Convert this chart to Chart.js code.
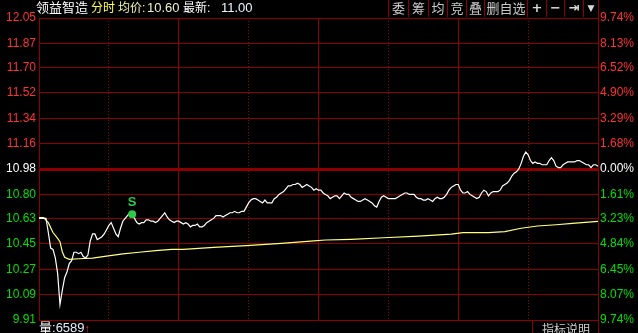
<!DOCTYPE html>
<html lang="zh">
<head>
<meta charset="UTF-8">
<title>领益智造 分时</title>
<style>
  html, body { margin: 0; padding: 0; background: #000; }
  body { width: 638px; height: 333px; overflow: hidden; position: relative; font-family: "Liberation Sans", "Noto Sans CJK SC", sans-serif; }
  #chart { position: absolute; left: 0; top: 0; display: block; }
  .ov { position: absolute; white-space: pre; z-index: 2; }
  .hd { top: 0; height: 17px; line-height: 16px; font-size: 13px; color: #fff; }
  .hd.cjk { font-size: 12px; }
  #tools { left: 388px; top: 0; height: 17px; display: flex; }
  #tools span { box-sizing: border-box; border-left: 1px solid #8c0000; height: 17px; line-height: 16px;
                text-align: center; color: #c8c8c8; font-size: 13px; font-family: "Noto Sans CJK SC", sans-serif; }
  #tools span.sym { font-family: "DejaVu Sans", sans-serif; font-weight: bold; color: #d8d8d8; }
  #rline { left: 598px; top: 0; width: 1px; height: 333px; background: #8c0000; }
  #vol { left: 39px; top: 320px; font-size: 13px; line-height: 16px; color: #fff; }
  #help { left: 532px; top: 320px; height: 16px; border-left: 1px solid #8c0000; padding-left: 9px;
          font-size: 12px; line-height: 18px; color: #d0d0d0; font-family: "Noto Sans CJK SC", sans-serif; }
</style>
</head>
<body>
<canvas id="chart" width="638" height="333"></canvas>

<div class="ov hd" style="left:36px">领益智造</div>
<div class="ov hd cjk" style="left:91px;color:#ffff50">分时</div>
<div class="ov hd cjk" style="left:118px;color:#f4f4a0">均价:</div>
<div class="ov hd" style="left:147px;color:#f0f0c8">10.60</div>
<div class="ov hd cjk" style="left:183px">最新:</div>
<div class="ov hd" style="left:221px;color:#e8f8ff">11.00</div>
<div class="ov" id="tools">
  <span style="width:20px">委</span><span style="width:20px">筹</span><span style="width:19px">均</span><span style="width:19px">竞</span><span style="width:18px">叠</span><span style="width:43px">删自选</span><span class="sym" style="width:19px">+</span><span class="sym" style="width:18px">−</span><span class="sym" style="width:19px;font-size:13px">⇥</span><span class="sym" style="width:15px;font-size:9px">▼</span>
</div>
<div class="ov" id="rline"></div>
<div class="ov" id="vol">量<span style="color:#e0f0ff">:6589</span><span style="color:#ff3030;font-size:11px">↑</span></div>
<div class="ov" id="help">指标说明</div>

<script src="https://cdn.jsdelivr.net/npm/chart.js"></script>
<script>
// prev close, axis range and tick labels (top to bottom)
const prevClose = 10.98;
const priceTicks = [12.05, 11.87, 11.70, 11.52, 11.34, 11.16, 10.98, 10.80, 10.63, 10.45, 10.27, 10.09, 9.91];
const percentTicks = ['9.74%', '8.13%', '6.52%', '4.90%', '3.29%', '1.68%', '0.00%',
                      '1.61%', '3.23%', '4.84%', '6.45%', '8.07%', '9.74%'];

// minute ticks: solid lines and dotted lines (0 = 9:30, 240 = 15:00)
const solidMinutes = [0, 60, 120, 180, 240];
const dottedMinutes = [30, 90, 150, 210];

// last price per minute, 0..240
const prices = [
  10.63, 10.63, 10.63, 10.63, 10.53, 10.42, 10.41, 10.35, 10.24, 10.02,
  10.12, 10.21, 10.25, 10.31, 10.33, 10.39, 10.39, 10.38, 10.39, 10.36,
  10.35, 10.37, 10.47, 10.52, 10.52, 10.48, 10.49, 10.50, 10.52, 10.55,
  10.58, 10.60, 10.56, 10.52, 10.50, 10.56, 10.61, 10.63, 10.65, 10.67,
  10.66, 10.63, 10.60, 10.59, 10.60, 10.60, 10.62, 10.62, 10.61, 10.61,
  10.60, 10.61, 10.63, 10.65, 10.67, 10.64, 10.62, 10.61, 10.60, 10.61,
  10.61, 10.60, 10.59, 10.60, 10.59, 10.57, 10.58, 10.58, 10.59, 10.57,
  10.57, 10.58, 10.60, 10.61, 10.62, 10.63, 10.65, 10.65, 10.65, 10.64,
  10.65, 10.66, 10.67, 10.67, 10.68, 10.67, 10.67, 10.68, 10.68, 10.71,
  10.74, 10.76, 10.77, 10.77, 10.76, 10.75, 10.74, 10.76, 10.74, 10.74,
  10.74, 10.77, 10.78, 10.80, 10.81, 10.82, 10.84, 10.86, 10.86, 10.87,
  10.87, 10.88, 10.87, 10.85, 10.86, 10.87, 10.86, 10.85, 10.83, 10.84,
  10.83, 10.83, 10.81, 10.80, 10.79, 10.77, 10.78, 10.79, 10.79, 10.77,
  10.79, 10.81, 10.80, 10.80, 10.78, 10.77, 10.76, 10.75, 10.75, 10.76,
  10.77, 10.76, 10.75, 10.74, 10.72, 10.71, 10.75, 10.78, 10.79, 10.78,
  10.77, 10.77, 10.77, 10.77, 10.78, 10.79, 10.80, 10.81, 10.81, 10.80,
  10.80, 10.80, 10.78, 10.77, 10.77, 10.76, 10.76, 10.77, 10.76, 10.75,
  10.77, 10.78, 10.77, 10.77, 10.78, 10.80, 10.83, 10.85, 10.86, 10.87,
  10.87, 10.83, 10.81, 10.81, 10.82, 10.80, 10.79, 10.78, 10.77, 10.78,
  10.81, 10.83, 10.82, 10.79, 10.81, 10.82, 10.82, 10.82, 10.83, 10.86,
  10.87, 10.88, 10.90, 10.93, 10.95, 10.96, 10.98, 11.02, 11.07, 11.10,
  11.08, 11.04, 11.02, 11.03, 11.02, 11.02, 11.01, 11.01, 11.01, 11.04,
  11.06, 11.04, 11.00, 10.99, 10.99, 11.01, 11.02, 11.03, 11.03, 11.03,
  11.03, 11.04, 11.04, 11.03, 11.02, 11.01, 11.01, 10.99, 11.01, 11.01,
  11.00
];

// average price line, read at a few minutes
const avgMinutes = [0, 2, 4, 6, 8, 9, 10, 11, 13, 17, 23, 29, 36, 43, 50, 57, 62, 75, 89,
                    104, 118, 123, 134, 148, 163, 177, 182, 193, 200, 207, 214, 222, 229, 240];
const avgPrices = [10.635, 10.635, 10.600, 10.530, 10.489, 10.465, 10.394, 10.354, 10.340, 10.344,
                   10.349, 10.363, 10.378, 10.390, 10.401, 10.411, 10.411, 10.425, 10.437,
                   10.453, 10.470, 10.477, 10.482, 10.493, 10.505, 10.519, 10.529, 10.529,
                   10.536, 10.560, 10.576, 10.585, 10.595, 10.609];

// buy/sell signal marks
const signalMinutes = [40];
const signalTexts = ['S'];

const gridRed = '#8c0000';
const upRed = '#ff3232';
const downGreen = '#00e000';
const signalGreen = '#2ec84a';

function tickColor(ctx) {
  const v = ctx.tick.value;
  if (Math.abs(v - prevClose) < 0.001) return '#ffffff';
  return v > prevClose ? upRed : downGreen;
}

function setTicks(values) {
  return scale => { scale.ticks = values.slice().sort((a, b) => a - b).map(v => ({ value: v })); };
}

// draws the S letter above each signal dot
const signalLabel = {
  id: 'signalLabel',
  afterDatasetsDraw(chart) {
    const meta = chart.getDatasetMeta(0);
    const ctx = chart.ctx;
    ctx.save();
    ctx.fillStyle = signalGreen;
    ctx.font = 'bold 13px "Liberation Sans"';
    ctx.textAlign = 'center';
    ctx.textBaseline = 'alphabetic';
    meta.data.forEach((pt, i) => ctx.fillText(signalTexts[i], pt.x, pt.y - 8));
    ctx.restore();
  }
};

const yRange = { min: priceTicks[priceTicks.length - 1], max: priceTicks[0] };

new Chart(document.getElementById('chart'), {
  type: 'line',
  data: {
    datasets: [
      {
        label: 'signal',
        data: signalMinutes.map(m => ({ x: m, y: prices[m] })),
        showLine: false,
        pointRadius: 4,
        pointBackgroundColor: signalGreen,
        pointBorderColor: signalGreen,
        pointBorderWidth: 0
      },
      {
        label: '价格',
        data: prices.map((p, i) => ({ x: i, y: p })),
        borderColor: '#ffffff',
        borderWidth: 1.2,
        pointRadius: 0,
        tension: 0
      },
      {
        label: '均价',
        data: avgMinutes.map((m, i) => ({ x: m, y: avgPrices[i] })),
        borderColor: '#ffff80',
        borderWidth: 1.2,
        pointRadius: 0,
        tension: 0
      }
    ]
  },
  options: {
    responsive: false,
    animation: false,
    events: [],
    layout: { padding: { top: 18, bottom: 13, left: 0, right: 0 } },
    plugins: { legend: { display: false }, tooltip: { enabled: false } },
    scales: {
      x: {
        type: 'linear', min: 0, max: 240,
        afterBuildTicks: setTicks(solidMinutes),
        afterFit: s => { s.height = 0; },
        ticks: { display: false },
        grid: { color: gridRed, lineWidth: 1, drawTicks: false },
        border: { display: false }
      },
      x2: {
        type: 'linear', min: 0, max: 240, position: 'bottom',
        afterBuildTicks: setTicks(dottedMinutes),
        afterFit: s => { s.height = 0; },
        ticks: { display: false },
        grid: { color: gridRed, lineWidth: 1, drawTicks: false },
        border: { display: false, dash: [1, 2] }
      },
      y: {
        type: 'linear', position: 'left', min: yRange.min, max: yRange.max,
        afterBuildTicks: setTicks(priceTicks),
        afterFit: s => { s.width = 39; },
        ticks: {
          autoSkip: false,
          padding: 3,
          color: tickColor,
          font: { family: 'Liberation Sans', size: 12 },
          callback: v => v.toFixed(2)
        },
        grid: {
          color: gridRed,
          lineWidth: ctx => (ctx.tick && Math.abs(ctx.tick.value - prevClose) < 0.001 ? 3 : 1),
          drawTicks: false
        },
        border: { display: false }
      },
      y2: {
        type: 'linear', position: 'right', min: yRange.min, max: yRange.max,
        afterBuildTicks: setTicks(priceTicks),
        afterFit: s => { s.width = 40; },
        ticks: {
          autoSkip: false,
          padding: 2,
          color: tickColor,
          font: { family: 'Liberation Sans', size: 12 },
          callback: v => percentTicks[priceTicks.findIndex(t => Math.abs(t - v) < 0.001)]
        },
        grid: { drawOnChartArea: false, drawTicks: false },
        border: { display: false }
      }
    }
  },
  plugins: [signalLabel]
});
</script>
</body>
</html>
